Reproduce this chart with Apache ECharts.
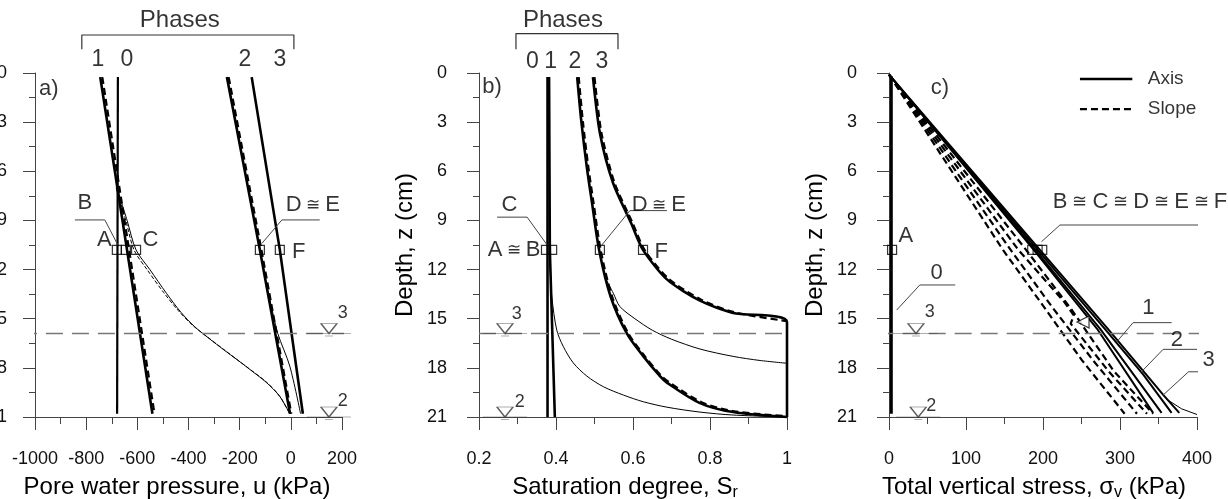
<!DOCTYPE html>
<html><head><meta charset="utf-8">
<script src="https://cdn.jsdelivr.net/npm/echarts@6/dist/echarts.min.js"></script>
<style>html,body{margin:0;padding:0;background:#fff}#c{width:1228px;height:499px}</style>
</head><body><div id="c"></div>
<script>
const FONT = "'Liberation Sans', Arial, Helvetica, sans-serif";

// ---------- Panel a: pore water pressure u (kPa) vs depth z (cm) ----------
const aPhase0 = [[-676,0.25],[-679,20.8]];
const aPhase1Axis = [[-745,0.25],[-541,20.8]];
const aPhase1Slope = [[-737,0.25],[-533,20.8]];
const aPhase2Axis = [[-250,0.25],[-121,10.8],[-3,20.8]];
const aPhase2Slope = [[-243,0.25],[-115,10.8],[2,20.8]];
const aPhase3Axis = [[-153,0.25],[-43,10.8],[47,20.8]];
const aThin1Axis = [[-680,7.0],[-640,9.0],[-605,10.8],[-551,12.0],[-486,13.45],[-430,14.6],[-375,15.5],[-320,16.2],[-262,16.9],[-210,17.5],[-160,18.1],[-95,18.9],[-43,19.75],[-4,20.8]];
const aThin1Slope = [[-683,7.0],[-645,9.0],[-613,10.8],[-562,12.0],[-497,13.4],[-440,14.5],[-384,15.4],[-327,16.1],[-267,16.82],[-214,17.45],[-163,18.05],[-97,18.85],[-45,19.7],[-5,20.8]];
const aThin2 = [[-97,13.0],[-82,13.86],[-51,15.9],[-4,17.9],[38,20.8]];
const aPoints = [[-680,10.8],[-645,10.8],[-605,10.8],[-121,10.8],[-43,10.8]];
const aTexts = [['a)',-946,1.0],['B',-805,7.94],['A',-729,10.2],['C',-549,10.2],['D{s| ≅ }E',86,8.06],['F',31,10.9]];
const aPhaseTexts = [['1',-754,-0.8],['0',-641,-0.8],['2',-180,-0.8],['3',-43,-0.8]];
const aPhasesTitle = [['Phases',-434,-3.24]];
const aBracket = [[-817,-1.45],[-817,-2.32],[12,-2.32],[12,-1.45]];
const aLeaderB = [[-844,8.97],[-727,8.97],[-676,10.5]];
const aLeaderDE = [[113,8.97],[-35,8.97],[-113,10.4]];
const aWater = [[149,15.9],[149,21]];
const aWaterTexts = [['3',203,14.65],['2',203,20.0]];
const aWaterLevel = [[-1059,15.9],[367,15.9]];

// ---------- Panel b: saturation degree Sr vs depth ----------
const bPhase0 = [[0.378,0.25],[0.378,21]];
const bPhase1Axis = [[0.382,0.25],[0.384,10.8],[0.397,21]];
const bPhase2Axis = [[0.455,0.25],[0.466,3],[0.48,5.74],[0.494,8],[0.512,10.8],[0.542,13.66],[0.584,15.9],[0.627,17.3],[0.67,18.5],[0.688,18.9],[0.774,20.15],[0.86,20.7],[1.0,21]];
const bPhase2Slope = [[0.459,0.25],[0.470,3],[0.484,5.74],[0.498,8],[0.516,10.8],[0.546,13.66],[0.588,15.9],[0.631,17.3],[0.674,18.5],[0.692,18.85],[0.778,20.1],[0.862,20.65],[1.0,20.95]];
const bPhase3Axis = [[0.496,0.25],[0.514,3.66],[0.548,6.7],[0.595,9.16],[0.626,10.8],[0.688,12.6],[0.774,13.9],[0.86,14.65],[1.0,15.2],[1.0,21]];
const bPhase3Slope = [[0.500,0.25],[0.518,3.66],[0.552,6.7],[0.599,9.16],[0.630,10.8],[0.692,12.55],[0.778,13.85],[0.862,14.6],[1.0,15.15]];
const bThin1 = [[0.383,11],[0.386,12.5],[0.389,13.66],[0.402,15.7],[0.419,16.7],[0.445,17.7],[0.48,18.5],[0.523,19.15],[0.575,19.66],[0.627,20.07],[0.688,20.4],[0.774,20.7],[0.86,20.88],[1.0,21]];
const bThin2 = [[0.53,12.6],[0.549,13.45],[0.566,14.26],[0.605,15.0],[0.65,15.7],[0.70,16.25],[0.774,16.85],[0.86,17.3],[0.93,17.55],[1.0,17.72]];
const bPoints = [[0.374,10.8],[0.39,10.8],[0.514,10.8],[0.626,10.8]];
const bTexts = [['b)',0.234,0.85],['C',0.279,8.06],['A{s| ≅ }B',0.291,10.8],['D{s| ≅ }E',0.667,8.06],['F',0.673,10.9]];
const bPhaseTexts = [['0',0.339,-0.67],['1',0.386,-0.67],['2',0.449,-0.67],['3',0.519,-0.67]];
const bPhasesTitle = [['Phases',0.418,-3.24]];
const bBracket = [[0.296,-1.45],[0.296,-2.4],[0.561,-2.4],[0.561,-1.45]];
const bLeaderC = [[0.247,8.8],[0.325,8.8],[0.377,10.5]];
const bLeaderDE = [[0.688,8.4],[0.592,8.4],[0.519,10.5]];
const bWater = [[0.2675,15.9],[0.2675,21]];
const bWaterTexts = [['3',0.298,14.7],['2',0.306,20.1]];
const bWaterLevel = [[0.2,15.9],[1.05,15.9]];

// ---------- Panel c: total vertical stress (kPa) vs depth ----------
const cPhase0 = [[3,0.2],[3,20.8]];
const cAxis1 = [[0,0.1],[188,10.8],[270,15.6],[343,20.75]];
const cAxis2 = [[0,0.1],[190,10.8],[274,15.6],[354,20.75]];
const cAxis3 = [[0,0.1],[193,10.8],[280,15.6],[330,18.4],[367,20.75]];
const cAxis4 = [[0,0.1],[196,10.8],[284,15.6],[357,19.7],[377,20.75]];
const cThin = [[360,19.9],[380,20.5],[400,20.85]];
const cSlope1 = [[0,0.1],[148,10.8],[200,14.2],[250,17.5],[306,20.8]];
const cSlope2 = [[0,0.1],[158,10.8],[212,14.3],[266,17.6],[322,20.8]];
const cSlope3 = [[0,0.1],[168,10.8],[228,14.0],[240,14.8],[236,15.3],[285,18.2],[335,20.8]];
const cSlope4 = [[0,0.1],[178,10.8],[238,14.5],[292,18.2],[343,20.8]];
const cPoints = [[4,10.8],[186,10.8],[193,10.8],[199,10.8]];
const cTriangle = [[252,15.2]];
const cTexts = [['c)',66,0.9],['A',22,9.95],['B{s| ≅ }C{s| ≅ }D{s| ≅ }E{s| ≅ }F',326,7.9],['0',62,12.2],['1',337,14.37],['2',374,16.3],['3',415,17.5]];
const cLeaderBF = [[436,9.28],[222,9.28],[198,10.3]];
const cLeader0 = [[10,14.47],[40,12.94],[86,12.94]];
const cLeader1 = [[296,16.4],[317,15.24],[367,15.24]];
const cLeader2 = [[326,18.33],[356,16.87],[400,16.87]];
const cLeader3 = [[356,19.66],[389,18.24],[434,18.24]];
const cWater = [[35,15.9],[38,21]];
const cWaterTexts = [['3',53,14.57],['2',55,20.3]];
const cWaterLevel = [[-16,15.9],[440,15.9]];
// legend key (drawn in panel c data space)
const legendAxisLine = [[248,0.37],[316,0.37]];
const legendSlopeLine = [[248,2.2],[316,2.2]];
const legendTexts = [['Axis',336,0.37],['Slope',336,2.2]];

// ---------- helpers ----------
const grids = [
  {left:35, top:73, width:307, height:344, outerBoundsMode:'none', containLabel:false},
  {left:479, top:73, width:308, height:344, outerBoundsMode:'none', containLabel:false},
  {left:889, top:73, width:308, height:344, outerBoundsMode:'none', containLabel:false}
];
const AX = '#444';
function xAx(i, min, max, interval, name, pad, fmt) {
  return {
    type:'value', gridIndex:i, min:min, max:max, interval:interval, position:'bottom',
    axisLine:{show:true, onZero:false, lineStyle:{color:AX, width:1}},
    axisTick:{show:true, inside:false, length:13, lineStyle:{color:AX}},
    minorTick:{show:true, splitNumber:2, length:7, lineStyle:{color:AX}},
    splitLine:{show:false}, minorSplitLine:{show:false},
    axisLabel:{show:true, margin:33, fontSize:18, color:'#111', fontFamily:FONT, formatter:fmt},
    name:name, nameLocation:'middle', nameGap:54,
    nameTextStyle:{fontSize:24, color:'#000', fontFamily:FONT, lineHeight:28, padding:[0,pad,0,0],
      rich:{sub:{fontSize:16, color:'#000', fontFamily:FONT, verticalAlign:'bottom', lineHeight:18}}}
  };
}
function yAx(i, margin) {
  return {
    type:'value', gridIndex:i, min:0, max:21, interval:3, inverse:true, position:'left',
    axisLine:{show:true, onZero:false, lineStyle:{color:AX, width:1}},
    axisTick:{show:true, inside:false, length:12, lineStyle:{color:AX}},
    minorTick:{show:true, splitNumber:2, length:6, lineStyle:{color:AX}},
    splitLine:{show:false}, minorSplitLine:{show:false},
    axisLabel:{show:true, margin:margin, fontSize:18, color:'#111', fontFamily:FONT},
    name:'Depth, z (cm)', nameLocation:'middle', nameGap:62, nameRotate:90,
    nameTextStyle:{fontSize:24, color:'#000', fontFamily:FONT}
  };
}
function ln(g, data, w, opt) {
  opt = opt || {};
  return {
    type:'line', name:opt.name, xAxisIndex:g, yAxisIndex:g, data:data, symbol:'none', showSymbol:false,
    clip:false, silent:true, smooth:opt.smooth || 0, z:opt.z || 2,
    itemStyle:{color:opt.color || '#000'},
    lineStyle:{color:opt.color || '#000', width:w, type:opt.dash || 'solid', cap:'butt', join:'round'}
  };
}
function txt(g, arr, size, opt) {
  opt = opt || {};
  return {
    type:'scatter', xAxisIndex:g, yAxisIndex:g, symbolSize:0, clip:false, silent:true, z:10,
    data:arr.map(function (t) { return {value:[t[1], t[2]], label:{formatter:t[0]}}; }),
    label:{show:true, position:'inside', align:opt.align || 'center', verticalAlign:'middle', fontSize:size,
      color:'#000', fontFamily:FONT,
      rich:{s:{fontSize:opt.sSize || 17, color:'#000', fontFamily:FONT}}}
  };
}
function squares(g, data) {
  return {type:'scatter', xAxisIndex:g, yAxisIndex:g, data:data, symbol:'rect', symbolSize:9,
    clip:false, silent:true, z:8,
    itemStyle:{color:'rgba(0,0,0,0)', borderColor:'#000', borderWidth:1.2}};
}
const WATER_PATH = 'path://M0,10 L44,10 M14,0 L30,0 L22,10 Z M18,12.5 L26,12.5';
function water(g, data) {
  return {type:'scatter', xAxisIndex:g, yAxisIndex:g, data:data, symbol:WATER_PATH,
    symbolSize:[44,12.5], symbolOffset:[0,-3.75], clip:false, silent:true, z:9,
    itemStyle:{color:'#fff', borderColor:'#333', borderWidth:1}};
}
const THICK = 2.6, DASH = [7,4], LVL = {color:'#777', dash:[17,9]};

const series = [
  // panel c
  ln(2, cAxis1, 2),
  ln(2, cAxis2, 2),
  ln(2, cAxis3, 2),
  ln(2, cAxis4, 2),
  ln(2, cThin, 1),
  ln(2, cSlope1, 2.2, {dash:DASH}),
  ln(2, cSlope2, 2.2, {dash:DASH}),
  ln(2, cSlope3, 2.2, {dash:DASH}),
  ln(2, cSlope4, 2.2, {dash:DASH}),
  ln(2, cPhase0, 3),
  ln(2, cWaterLevel, 1.5, LVL),
  ln(2, cLeaderBF, 1, {color:'#444'}),
  ln(2, cLeader0, 1, {color:'#444'}),
  ln(2, cLeader1, 1, {color:'#444'}),
  ln(2, cLeader2, 1, {color:'#444'}),
  ln(2, cLeader3, 1, {color:'#444'}),
  ln(2, legendAxisLine, 2.6),
  ln(2, legendSlopeLine, 2.2, {dash:[7,4]}),
  squares(2, cPoints),
  {type:'scatter', xAxisIndex:2, yAxisIndex:2, data:cTriangle, symbol:'triangle', symbolSize:12, symbolRotate:90,
    clip:false, silent:true, z:8, itemStyle:{color:'#fff', borderColor:'#000', borderWidth:1.2}},
  water(2, cWater),
  txt(2, cTexts, 22, {sSize:18}),
  txt(2, cWaterTexts, 18),
  txt(2, legendTexts, 19, {align:'left'}),

  // panel a
  ln(0, aPhase0, 2.2),
  ln(0, aPhase1Axis, THICK),
  ln(0, aPhase1Slope, 2.2, {dash:DASH}),
  ln(0, aPhase2Axis, THICK),
  ln(0, aPhase2Slope, 2.2, {dash:DASH}),
  ln(0, aPhase3Axis, THICK),
  ln(0, aThin1Axis, 1, {smooth:0.3}),
  ln(0, aThin1Slope, 1, {smooth:0.3, dash:[4,2]}),
  ln(0, aThin2, 1, {smooth:0.3}),
  ln(0, aWaterLevel, 1.5, LVL),
  ln(0, aBracket, 1.2, {color:'#333'}),
  ln(0, aLeaderB, 1, {color:'#444'}),
  ln(0, aLeaderDE, 1, {color:'#444'}),
  squares(0, aPoints),
  water(0, aWater),
  txt(0, aTexts, 22),
  txt(0, aPhaseTexts, 23),
  txt(0, aPhasesTitle, 24),
  txt(0, aWaterTexts, 18),

  // panel b
  ln(1, bPhase0, THICK),
  ln(1, bPhase1Axis, THICK),
  ln(1, bPhase2Axis, THICK, {smooth:0.3}),
  ln(1, bPhase2Slope, 2.2, {dash:DASH, smooth:0.3}),
  ln(1, bPhase3Axis, THICK, {smooth:0.25}),
  ln(1, bPhase3Slope, 2.2, {dash:DASH, smooth:0.25}),
  ln(1, bThin1, 1, {smooth:0.3}),
  ln(1, bThin2, 1, {smooth:0.3}),
  ln(1, bWaterLevel, 1.5, LVL),
  ln(1, bBracket, 1.2, {color:'#333'}),
  ln(1, bLeaderC, 1, {color:'#444'}),
  ln(1, bLeaderDE, 1, {color:'#444'}),
  squares(1, bPoints),
  water(1, bWater),
  txt(1, bTexts, 22),
  txt(1, bPhaseTexts, 23),
  txt(1, bPhasesTitle, 24),
  txt(1, bWaterTexts, 18)
];

const chart = echarts.init(document.getElementById('c'), null, {renderer:'canvas'});
chart.setOption({
  animation:false,
  backgroundColor:'#fff',
  grid:grids,
  xAxis:[
    xAx(0, -1000, 200, 200, 'Pore water pressure, u (kPa)', 23, function (v) { return String(v); }),
    xAx(1, 0.2, 1, 0.2, 'Saturation degree, S{sub|r}', 16, function (v) { return Math.abs(v - 1) < 1e-9 ? '1' : v.toFixed(1); }),
    xAx(2, 0, 400, 100, 'Total vertical stress, σ{sub|v} (kPa)', 18, function (v) { return String(v); })
  ],
  yAxis:[yAx(0, 28), yAx(1, 32), yAx(2, 32)],
  series:series
});
</script></body></html>
